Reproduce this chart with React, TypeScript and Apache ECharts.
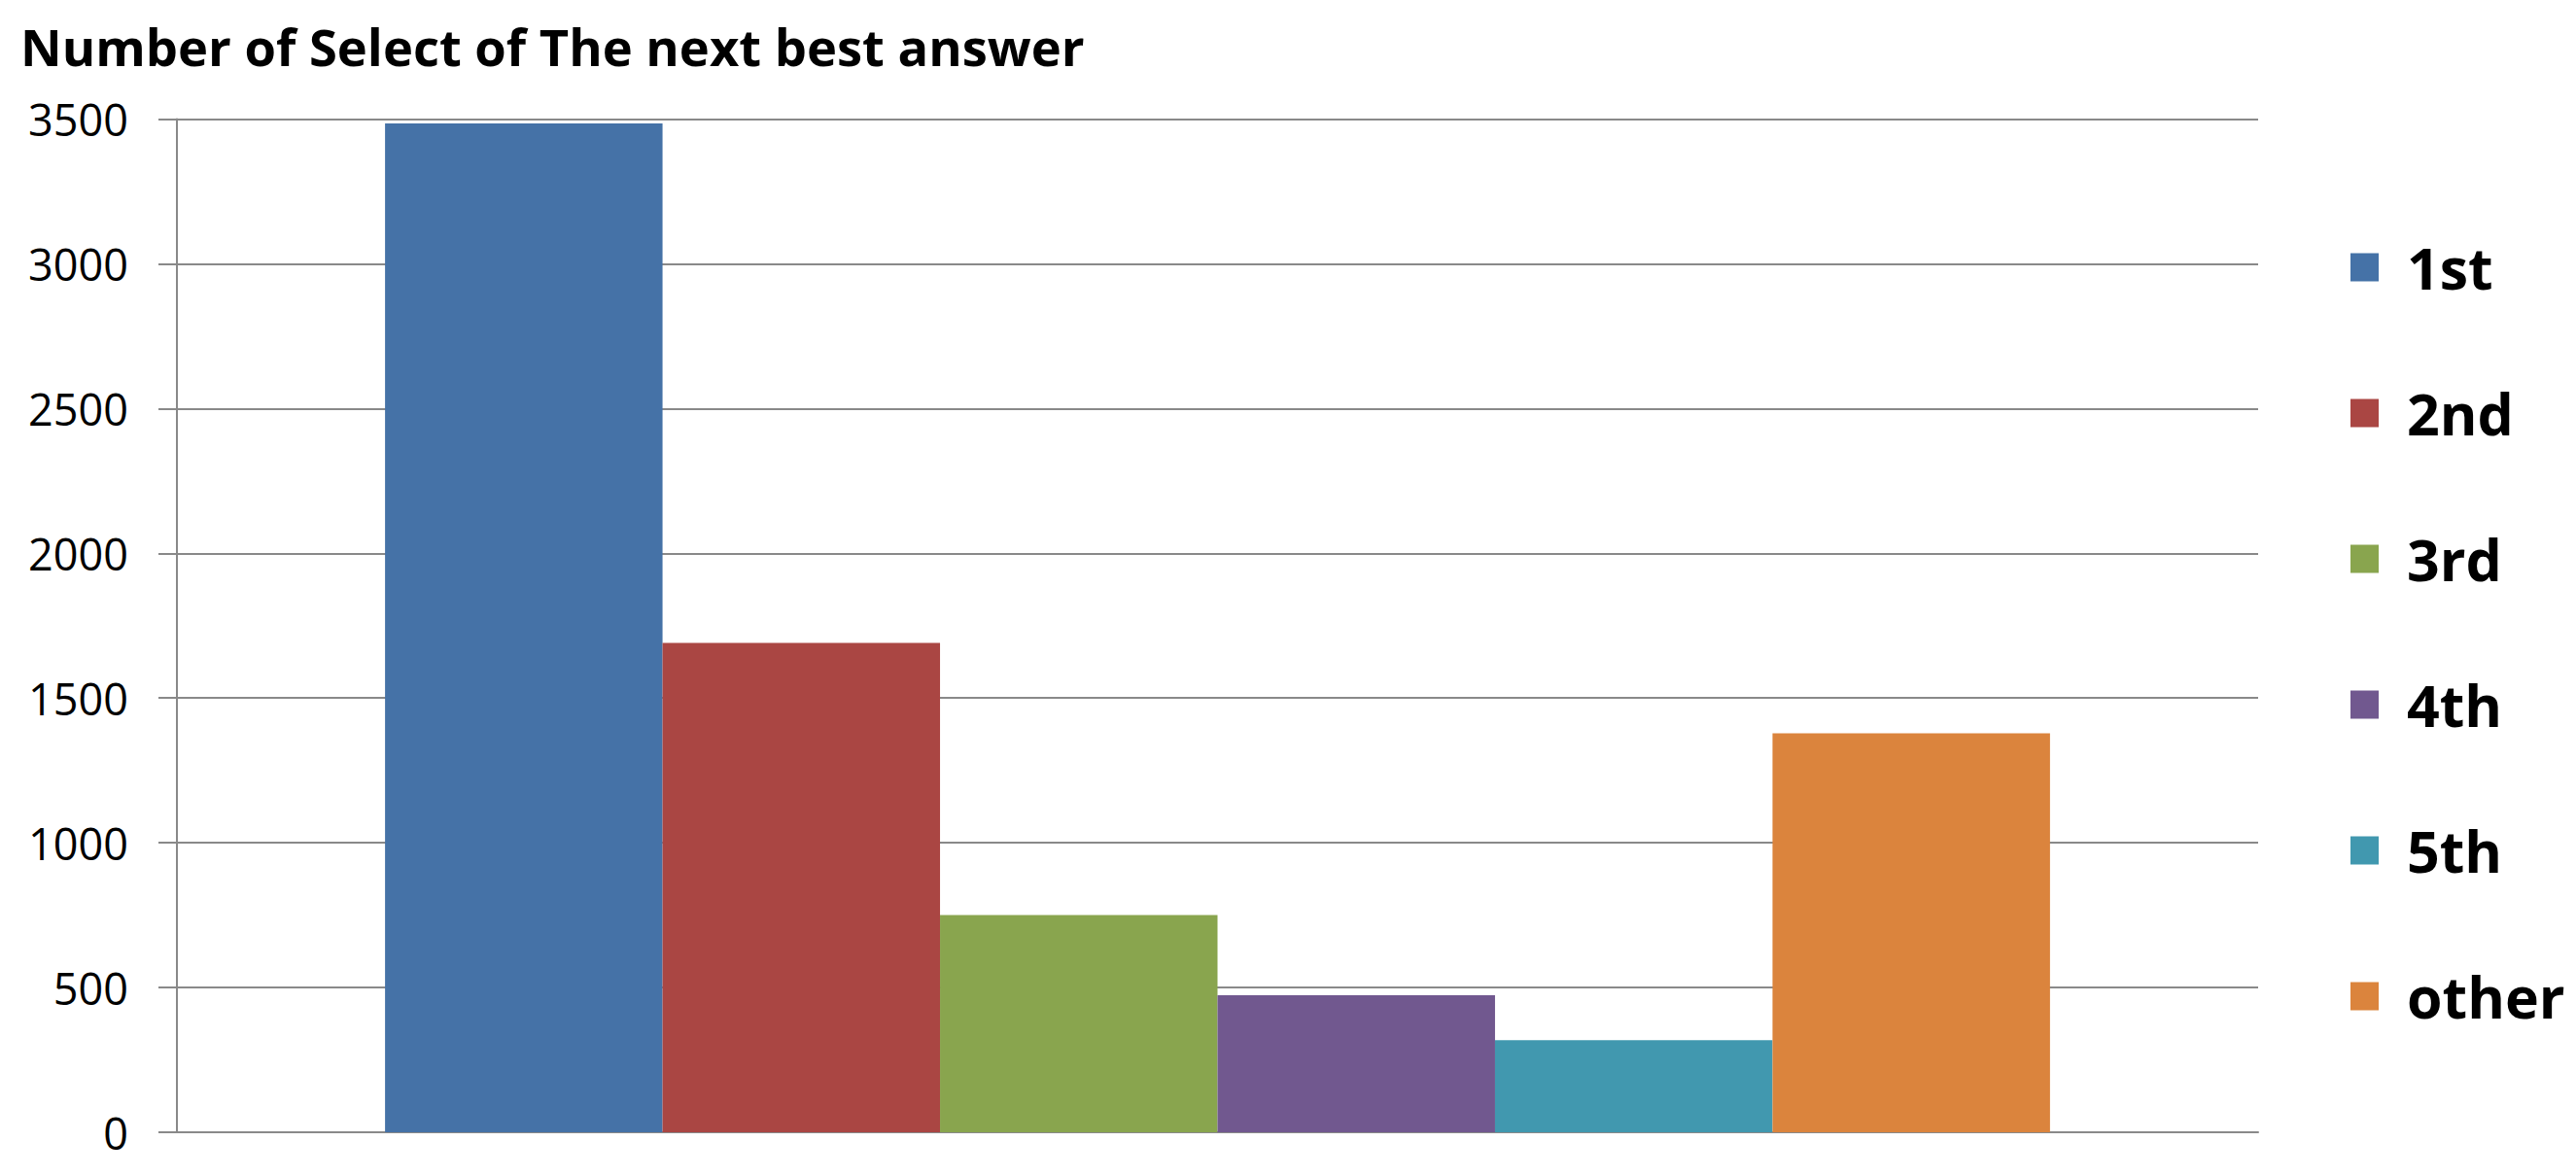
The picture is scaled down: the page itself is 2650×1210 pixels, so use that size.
import React, { useEffect, useRef } from "react";
import * as echarts from "echarts";

const TITLE = "Number of Select of The next best answer";
const categories = [""];
const seriesNames = ["1st", "2nd", "3rd", "4th", "5th", "other"];
const seriesValues = [3485, 1690, 750, 473, 318, 1378];
const seriesColors = ["#4572A7", "#AA4643", "#89A54E", "#71588F", "#4198AF", "#DB843D"];
const yTicks = { min: 0, max: 3500, interval: 500 };

const FONT = "'Open Sans', 'Noto Sans', sans-serif";
const GRAY = "#898989";

export default function App() {
  const ref = useRef<HTMLDivElement>(null);
  useEffect(() => {
    if (!ref.current) return;
    const chart = echarts.init(ref.current, undefined, { renderer: "svg" });
    chart.setOption({
      animation: false,
      backgroundColor: "#ffffff",
      title: {
        text: TITLE,
        left: 16,
        top: 12,
        textStyle: { fontFamily: FONT, fontWeight: "bold", fontSize: 52.5, lineHeight: 60, color: "#000" },
      },
      legend: {
        orient: "vertical",
        left: 2413,
        top: 240,
        itemWidth: 29,
        itemHeight: 29,
        itemGap: 90,
        icon: "rect",
        textStyle: {
          fontFamily: FONT,
          fontWeight: "bold",
          fontSize: 59,
          lineHeight: 60,
          color: "#000",
          padding: [0, 0, 0, 24],
        },
        data: seriesNames,
      },
      grid: { left: 182, right: 327, top: 122.5, bottom: 45 },
      xAxis: {
        type: "category",
        data: categories,
        axisLine: { show: true, lineStyle: { color: GRAY, width: 2 } },
        axisTick: { show: false },
        axisLabel: { show: false },
      },
      yAxis: {
        type: "value",
        min: yTicks.min,
        max: yTicks.max,
        interval: yTicks.interval,
        axisLine: { show: true, lineStyle: { color: GRAY, width: 2 } },
        axisTick: { show: true, length: 19, inside: false, lineStyle: { color: GRAY, width: 2 } },
        axisLabel: {
          fontFamily: FONT,
          fontSize: 45,
          color: "#000",
          margin: 50,
          formatter: (v: number) => String(v),
        },
        splitLine: { show: true, lineStyle: { color: GRAY, width: 2 } },
      },
      series: seriesNames.map((name, i) => ({
        name,
        type: "bar",
        data: [seriesValues[i]],
        barGap: "0%",
        barCategoryGap: "20%",
        itemStyle: { color: seriesColors[i] },
      })),
    });
    return () => chart.dispose();
  }, []);
  return (
    <div
      ref={ref}
      style={{ position: "fixed", left: 0, top: 0, width: 2650, height: 1210 }}
    />
  );
}
